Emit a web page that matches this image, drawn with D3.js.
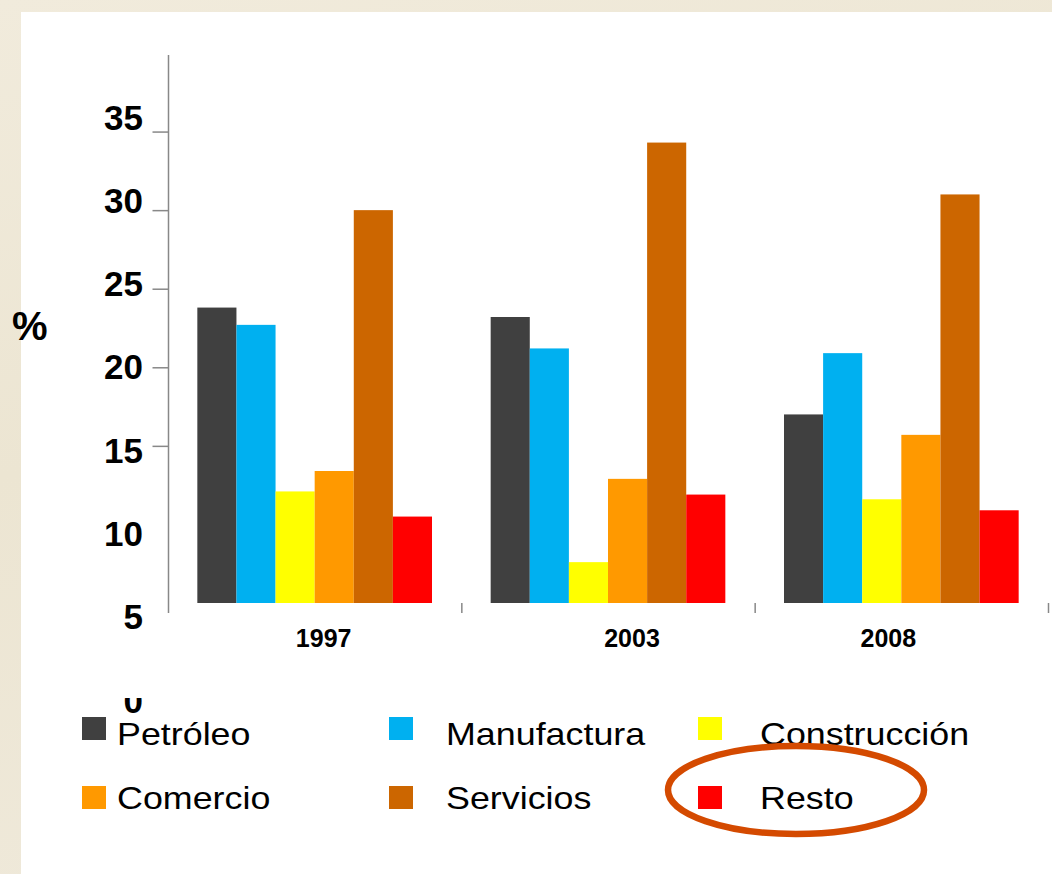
<!DOCTYPE html>
<html>
<head>
<meta charset="utf-8">
<script src="https://cdn.jsdelivr.net/npm/d3@7"></script>
<style>
  html, body { margin: 0; padding: 0; }
  body { width: 1052px; height: 874px; overflow: hidden; }
  text { font-family: "Liberation Sans", Arial, sans-serif; }
</style>
</head>
<body>
<div id="chart"></div>
<script>
// Categories and values (% share by sector)
const years = ["1997", "2003", "2008"];
const sectors = ["Petróleo", "Manufactura", "Construcción", "Comercio", "Servicios", "Resto"];
const sectorColors = ["#404040", "#00b0f0", "#ffff00", "#ff9900", "#cc6600", "#ff0000"];
const values1997 = [23.8, 22.7, 12.1, 13.4, 30.0, 10.5];
const values2003 = [23.2, 21.2, 7.6, 12.9, 34.3, 11.9];
const values2008 = [17.0, 20.9, 11.6, 15.7, 31.0, 10.9];
const yTickValues = [15, 20, 25, 30, 35];
const yTickLabels = [35, 30, 25, 20, 15, 10, 5, 0];
const highlighted = "Resto";

const width = 1052, height = 874;
const valuesByYear = { "1997": values1997, "2003": values2003, "2008": values2008 };

const svg = d3.select("#chart").append("svg")
  .attr("width", width)
  .attr("height", height);

// beige textured background + white panel
const defs = svg.append("defs");
const grad = defs.append("linearGradient").attr("id", "bg").attr("x1", 0).attr("y1", 0).attr("x2", 0.3).attr("y2", 1);
grad.append("stop").attr("offset", "0%").attr("stop-color", "#f1ebdc");
grad.append("stop").attr("offset", "50%").attr("stop-color", "#ece5d2");
grad.append("stop").attr("offset", "100%").attr("stop-color", "#efe9da");
svg.append("rect").attr("width", width).attr("height", height).attr("fill", "url(#bg)");
svg.append("rect").attr("x", 21).attr("y", 12).attr("width", width - 21).attr("height", height - 12).attr("fill", "#fff");

// Scales
const x0 = d3.scaleBand()
  .domain(years)
  .range([168, 1048])
  .paddingInner(0.2)
  .paddingOuter(0.1);

const x1 = d3.scaleBand()
  .domain(sectors)
  .range([0, x0.bandwidth()]);

const color = d3.scaleOrdinal().domain(sectors).range(sectorColors);

// bars start at 5 on the plotted axis
const y = d3.scaleLinear().domain([5, 40]).range([603, 53]);
// the tick labels sit on a slightly different spacing than the tick marks
const yLabel = d3.scaleLinear().domain([0, 35]).range([700, 117]);

// Y axis line + ticks
svg.append("line")
  .attr("x1", 168.5).attr("x2", 168.5)
  .attr("y1", y(40) + 2).attr("y2", y(5) + 10)
  .attr("stroke", "#888").attr("stroke-width", 1.5);

const yAxis = svg.append("g")
  .attr("transform", "translate(168.5,0)")
  .call(d3.axisLeft(y).tickValues(yTickValues).tickSize(16).tickFormat(""));
yAxis.select(".domain").remove();
yAxis.selectAll(".tick line").attr("stroke", "#888").attr("stroke-width", 1.5);

// Tick labels
defs.append("clipPath").attr("id", "zeroClip")
  .append("rect").attr("x", 0).attr("y", 698).attr("width", 170).attr("height", 40);

svg.append("g").selectAll("text")
  .data(yTickLabels)
  .join("text")
  .attr("x", 143)
  .attr("y", d => yLabel(d))
  .attr("dy", "0.36em")
  .attr("text-anchor", "end")
  .attr("font-size", 35)
  .attr("font-weight", "bold")
  .attr("fill", "#000")
  .attr("clip-path", d => d === 0 ? "url(#zeroClip)" : null)
  .text(d => d);

// "%" label
svg.append("text")
  .attr("x", 12).attr("y", 340)
  .attr("font-size", 40)
  .attr("font-weight", "bold")
  .text("%");

// X axis boundary ticks
svg.append("g").selectAll("line")
  .data(d3.range(1, years.length + 1))
  .join("line")
  .attr("x1", i => 168 + i * x0.step() + 0.5)
  .attr("x2", i => 168 + i * x0.step() + 0.5)
  .attr("y1", 603).attr("y2", 613)
  .attr("stroke", "#888").attr("stroke-width", 1.5);

// year labels (slightly off-centre as in the source)
const labelNudge = { "1997": 9, "2003": 24, "2008": -13 };
svg.append("g").selectAll("text")
  .data(years)
  .join("text")
  .attr("x", d => x0(d) + x0.bandwidth() / 2 + labelNudge[d])
  .attr("y", 647)
  .attr("text-anchor", "middle")
  .attr("font-size", 25)
  .attr("font-weight", "bold")
  .text(d => d);

// Bars
const groups = svg.append("g").selectAll("g")
  .data(years)
  .join("g")
  .attr("transform", d => `translate(${x0(d)},0)`);

groups.selectAll("rect")
  .data(yr => sectors.map((s, i) => ({ sector: s, value: valuesByYear[yr][i] })))
  .join("rect")
  .attr("x", d => x1(d.sector))
  .attr("y", d => y(d.value))
  .attr("width", x1.bandwidth())
  .attr("height", d => y(5) - y(d.value))
  .attr("fill", d => color(d.sector));

// Legend (3 columns x 2 rows)
const legendCols = [{ sq: 82, tx: 117 }, { sq: 389, tx: 446 }, { sq: 698, tx: 760 }];
const legendRows = [717, 786];
const legend = svg.append("g").selectAll("g")
  .data(sectors)
  .join("g")
  .attr("transform", (d, i) => `translate(0,${legendRows[Math.floor(i / 3)]})`);

legend.append("rect")
  .attr("x", (d, i) => legendCols[i % 3].sq)
  .attr("y", 0)
  .attr("width", 24).attr("height", 23)
  .attr("fill", d => color(d));

legend.append("text")
  .attr("transform", (d, i) => `translate(${legendCols[i % 3].tx},${i < 3 ? 28 : 23}) scale(1.12,1)`)
  .attr("font-size", 32)
  .attr("fill", "#000")
  .text(d => d);

// highlight ellipse around "Resto"
const hi = sectors.indexOf(highlighted);
svg.append("ellipse")
  .attr("cx", 796)
  .attr("cy", legendRows[Math.floor(hi / 3)] + 4)
  .attr("rx", 128).attr("ry", 44)
  .attr("fill", "none")
  .attr("stroke", "#d44a00")
  .attr("stroke-width", 6.5);
</script>
</body>
</html>
